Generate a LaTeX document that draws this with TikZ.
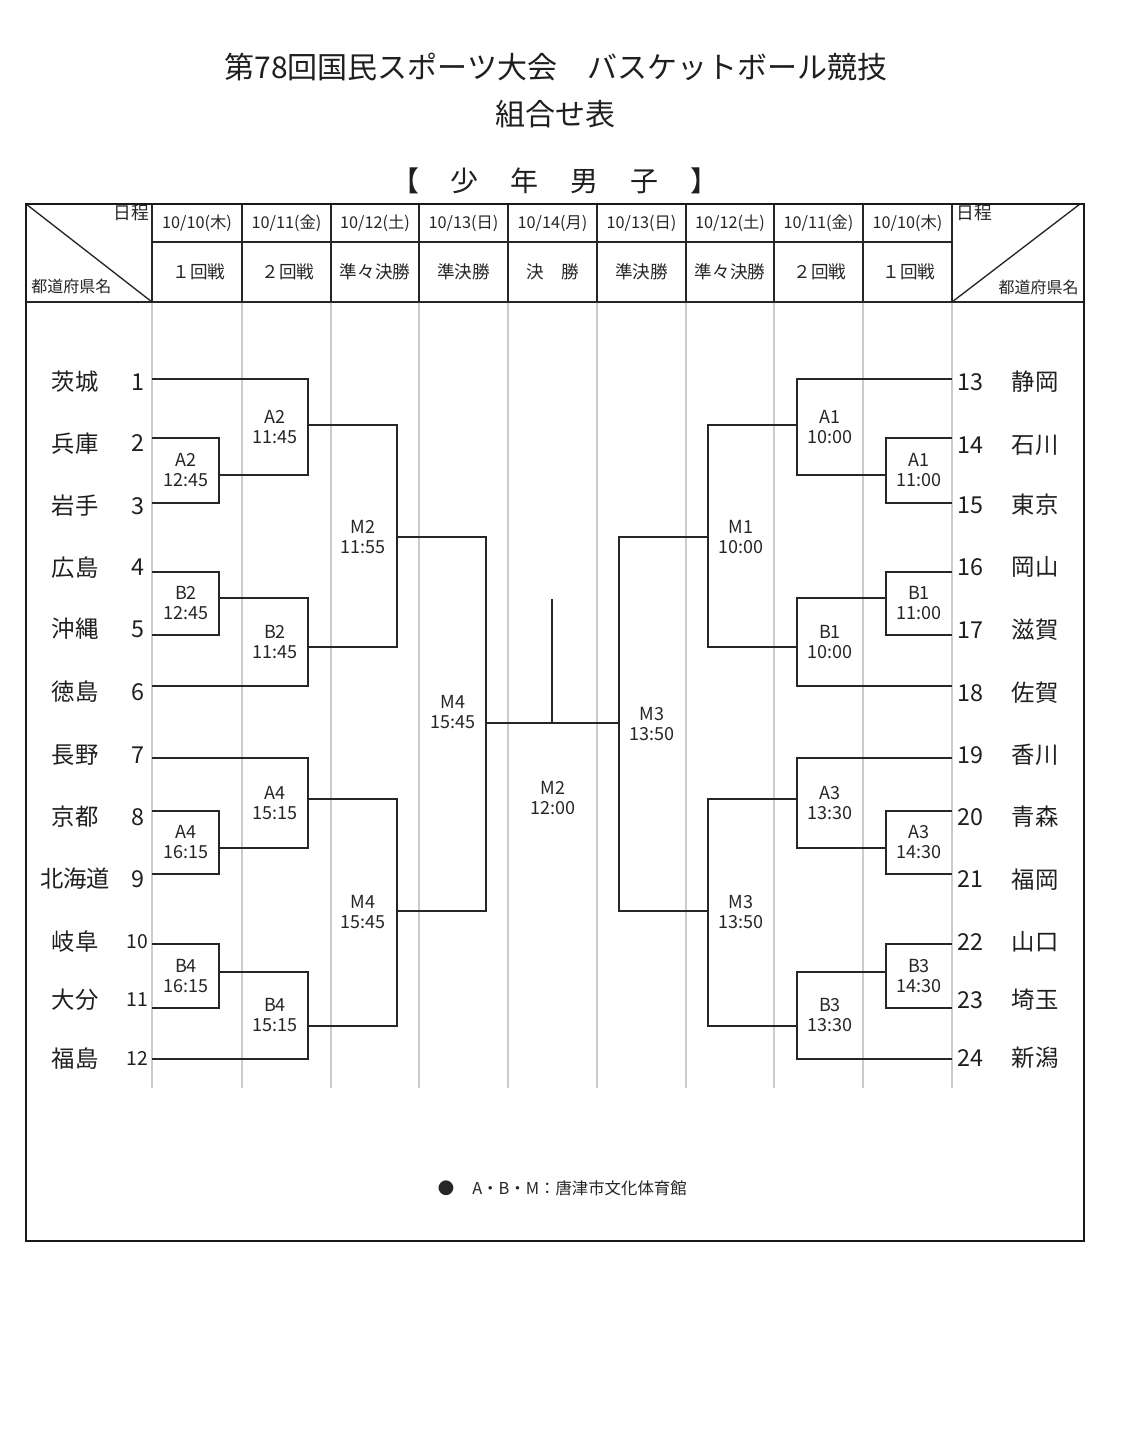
\documentclass[tikz,border=0pt]{standalone}
\usepackage{fontspec}
\setmainfont{Noto Sans CJK JP}
\begin{document}
\begin{tikzpicture}[x=0.75pt,y=-0.75pt,
  frame/.style={draw=black!90,line width=2.2pt},
  hdr/.style={draw=black!85,line width=1pt},
  hdrb/.style={draw=black!85,line width=1.6pt},
  grayline/.style={draw=black!20,line width=0.9pt},
  br/.style={draw=black!85,line width=1.1pt},
  pref/.style={font=\fontsize{17.5}{20}\selectfont,text=black!88,inner sep=0pt},
  numtxt/.style={font=\fontsize{17.5}{20}\selectfont,text=black!88,inner sep=0pt},
  numsm/.style={font=\fontsize{14.5}{17}\selectfont,text=black!88,inner sep=0pt},
  lab/.style={font=\fontsize{13.5}{15}\selectfont,align=center,inner sep=0pt,text=black!85},
  datetxt/.style={font=\fontsize{12.2}{14}\selectfont,text=black!85,inner sep=0pt},
  rndtxt/.style={font=\fontsize{13.2}{15}\selectfont,text=black!85,inner sep=0pt},
  hdrtxt/.style={font=\fontsize{13.3}{15}\selectfont,text=black!85,inner sep=0pt},
  titletxt/.style={font=\fontsize{22.5}{26}\selectfont,text=black!88,inner sep=0pt},
  foot/.style={font=\fontsize{12.3}{14}\selectfont,text=black!85,inner sep=0pt}]
\useasboundingbox (0,0) rectangle (1146,1430);
\fill[white] (0,0) rectangle (1146,1430);

% titles
\node[titletxt] (title1) at (556,67) {第78回国民スポーツ大会　バスケットボール競技};
\node[titletxt] (title2) at (555,114) {組合せ表};
\node[font=\fontsize{21}{24}\selectfont,text=black!88,inner sep=0pt] (title3) at (555,181)
  {【\hspace{24pt}少\hspace{24pt}年\hspace{24pt}男\hspace{24pt}子\hspace{24pt}】};

% gray column lines
\foreach \x in {152,242,331,419,508,597,686,774,863,952}
  \draw[grayline] (\x,302) -- (\x,1088);

% header grid
\foreach \x in {152,242,331,419,508,597,686,774,863,952}
  \draw[hdr] (\x,204) -- (\x,302);
\draw[hdr] (152,242) -- (952,242);
\draw[hdrb] (26,302) -- (1084,302);
\draw[hdr] (26,204) -- (152,302);
\draw[hdr] (952,302) -- (1080,204);
\draw[frame] (26,204) rectangle (1084,1241);

% header texts
\node[hdrtxt,anchor=east] (hl1) at (149,213) {日程};
\node[font=\fontsize{12}{14}\selectfont,text=black!85,inner sep=0pt,anchor=west] (hl2) at (31,286) {都道府県名};
\node[hdrtxt,anchor=west] (hr1) at (956,213) {日程};
\node[font=\fontsize{12}{14}\selectfont,text=black!85,inner sep=0pt,anchor=east] (hr2) at (1079,287) {都道府県名};

\node[datetxt] (d1) at (197,223) {10/10(木)};
\node[datetxt] (d2) at (286.5,223) {10/11(金)};
\node[datetxt] (d3) at (375,223) {10/12(土)};
\node[datetxt] (d4) at (463.5,223) {10/13(日)};
\node[datetxt] (d5) at (552.5,223) {10/14(月)};
\node[datetxt] (d6) at (641.5,223) {10/13(日)};
\node[datetxt] (d7) at (730,223) {10/12(土)};
\node[datetxt] (d8) at (818.5,223) {10/11(金)};
\node[datetxt] (d9) at (907.5,223) {10/10(木)};

\node[rndtxt] (r1) at (199,272) {１回戦};
\node[rndtxt] (r2) at (288,272) {２回戦};
\node[rndtxt] (r3) at (375,272) {準々決勝};
\node[rndtxt] (r4) at (463.5,272) {準決勝};
\node[rndtxt] (r5) at (552.5,272) {決　勝};
\node[rndtxt] (r6) at (641.5,272) {準決勝};
\node[rndtxt] (r7) at (730,272) {準々決勝};
\node[rndtxt] (r8) at (820,272) {２回戦};
\node[rndtxt] (r9) at (909,272) {１回戦};

% left teams
\foreach \i/\nm/\ty/\ly in {1/茨城/382/379,2/兵庫/443.5/438,3/岩手/506/503,4/広島/567.5/572,
  5/沖縄/629/635,6/徳島/692/686,7/長野/755/758,8/京都/817/811,9/北海道/879/874,
  10/岐阜/941.5/944,11/大分/1000/1008,12/福島/1058.5/1059}{
  \node[pref] (n\i) at (75,\ty) {\nm};
  \coordinate (t\i) at (152,\ly);
}
\foreach \i/\ty in {1/382,2/443.5,3/506,4/567.5,5/629,6/692,7/755,8/817,9/879}
  \node[numtxt] (k\i) at (138,\ty) {\i};
\foreach \i/\ty in {10/941.5,11/1000,12/1058.5}
  \node[numsm] (k\i) at (137.5,\ty) {\i};

% right teams
\foreach \i/\nm/\ty/\ly in {13/静岡/382/379,14/石川/445/438,15/東京/505/503,16/岡山/567/572,
  17/滋賀/630/635,18/佐賀/693/686,19/香川/755/758,20/青森/817/811,21/福岡/879.5/874,
  22/山口/942/944,23/埼玉/1000/1008,24/新潟/1058/1059}{
  \node[pref] (n\i) at (1035,\ty) {\nm};
  \node[numtxt] (k\i) at (970,\ty) {\i};
  \coordinate (t\i) at (952,\ly);
}

% match points (left)
\coordinate (L1) at (219,475);
\coordinate (L2) at (308,425);
\coordinate (L3) at (219,598);
\coordinate (L4) at (308,647);
\coordinate (L5) at (397,537);
\coordinate (L6) at (219,848);
\coordinate (L7) at (308,799);
\coordinate (L8) at (219,972);
\coordinate (L9) at (308,1026);
\coordinate (L10) at (397,911);
\coordinate (L11) at (486,723);
% match points (right)
\coordinate (R1) at (886,475);
\coordinate (R2) at (797,425);
\coordinate (R3) at (886,598);
\coordinate (R4) at (797,647);
\coordinate (R5) at (708,537);
\coordinate (R6) at (886,848);
\coordinate (R7) at (797,799);
\coordinate (R8) at (886,972);
\coordinate (R9) at (797,1026);
\coordinate (R10) at (708,911);
\coordinate (R11) at (619,723);
\coordinate (F) at (552,723);
\coordinate (Ftop) at (552,599);

% bracket lines
\draw[br] (t2) -| (L1) (t3) -| (L1)
          (t1) -| (L2) (L1) -| (L2)
          (t4) -| (L3) (t5) -| (L3)
          (L3) -| (L4) (t6) -| (L4)
          (L2) -| (L5) (L4) -| (L5)
          (t8) -| (L6) (t9) -| (L6)
          (t7) -| (L7) (L6) -| (L7)
          (t10) -| (L8) (t11) -| (L8)
          (L8) -| (L9) (t12) -| (L9)
          (L7) -| (L10) (L9) -| (L10)
          (L5) -| (L11) (L10) -| (L11);
\draw[br] (t14) -| (R1) (t15) -| (R1)
          (t13) -| (R2) (R1) -| (R2)
          (t16) -| (R3) (t17) -| (R3)
          (R3) -| (R4) (t18) -| (R4)
          (R2) -| (R5) (R4) -| (R5)
          (t20) -| (R6) (t21) -| (R6)
          (t19) -| (R7) (R6) -| (R7)
          (t22) -| (R8) (t23) -| (R8)
          (R8) -| (R9) (t24) -| (R9)
          (R7) -| (R10) (R9) -| (R10)
          (R5) -| (R11) (R10) -| (R11);
\draw[br] (L11) -- (R11);
\draw[br] (F) -- (Ftop);

% match labels (left)
\node[lab] (mA2a) at (186,470.5) {A2\\12:45};
\node[lab] (mA2b) at (275,427) {A2\\11:45};
\node[lab] (mB2a) at (186,603.5) {B2\\12:45};
\node[lab] (mB2b) at (275,642) {B2\\11:45};
\node[lab] (mM2a) at (363,537) {M2\\11:55};
\node[lab] (mA4a) at (186,842.5) {A4\\16:15};
\node[lab] (mA4b) at (275,803) {A4\\15:15};
\node[lab] (mB4a) at (186,976) {B4\\16:15};
\node[lab] (mB4b) at (275,1015.5) {B4\\15:15};
\node[lab] (mM4a) at (363,912.5) {M4\\15:45};
\node[lab] (mM4b) at (453,712.5) {M4\\15:45};
% center
\node[lab] (mF) at (553,798) {M2\\12:00};
% right
\node[lab] (mM3b) at (652,724.5) {M3\\13:50};
\node[lab] (mA1a) at (919,470.5) {A1\\11:00};
\node[lab] (mA1b) at (830,427) {A1\\10:00};
\node[lab] (mB1a) at (919,603.5) {B1\\11:00};
\node[lab] (mB1b) at (830,642) {B1\\10:00};
\node[lab] (mM1a) at (741,537) {M1\\10:00};
\node[lab] (mA3a) at (919,842.5) {A3\\14:30};
\node[lab] (mA3b) at (830,803) {A3\\13:30};
\node[lab] (mB3a) at (919,976) {B3\\14:30};
\node[lab] (mB3b) at (830,1015.5) {B3\\13:30};
\node[lab] (mM3a) at (741,912.5) {M3\\13:50};

% footer
\node[foot] (bullet) at (446,1188) {●};
\node[foot,anchor=west] (venue) at (472,1188) {A・B・M：唐津市文化体育館};
\end{tikzpicture}
\end{document}
